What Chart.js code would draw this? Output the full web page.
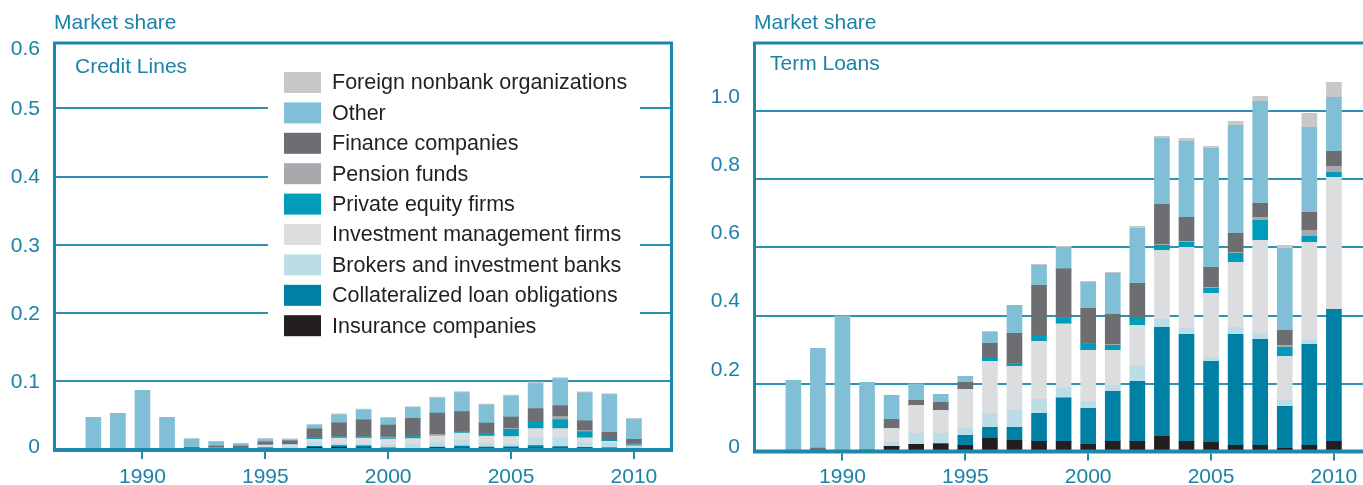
<!DOCTYPE html>
<html>
<head>
<meta charset="utf-8">
<script src="https://cdn.jsdelivr.net/npm/chart.js@4.4.0/dist/chart.umd.min.js"></script>
<style>
html, body { margin: 0; padding: 0; background: #fff; overflow: hidden; width: 1363px; height: 485px; }
canvas { position: absolute; top: 0; }
#credit { left: 0; }
#term { left: 700px; }
</style>
</head>
<body>
<canvas id="credit" width="690" height="485"></canvas>
<canvas id="term" width="690" height="485"></canvas>
<script>
// Data
const years = [1988, 1989, 1990, 1991, 1992, 1993, 1994, 1995, 1996, 1997, 1998, 1999,
               2000, 2001, 2002, 2003, 2004, 2005, 2006, 2007, 2008, 2009, 2010];
const xTickYears = [1990, 1995, 2000, 2005, 2010];

// stack order, bottom to top
const seriesNames = ['Insurance companies', 'Collateralized loan obligations', 'Brokers and investment banks',
    'Investment management firms', 'Private equity firms', 'Pension funds', 'Finance companies',
    'Other', 'Foreign nonbank organizations'];
const seriesColors = ['#231f20', '#0081a4', '#bcdde7', '#dcdddf', '#009cba', '#a7a9ac', '#6d6e71', '#80bfd5', '#c7c8ca'];

const creditYTicks = [0, 0.1, 0.2, 0.3, 0.4, 0.5, 0.6];
const creditYLabels = ['0', '0.1', '0.2', '0.3', '0.4', '0.5', '0.6'];
const termYTicks = [0, 0.2, 0.4, 0.6, 0.8, 1.0];
const termYLabels = ['0', '0.2', '0.4', '0.6', '0.8', '1.0'];

// Credit lines
const creditInsurance = [0, 0, 0, 0, 0, 0.001, 0.0015, 0.002, 0.0015, 0.003, 0.003, 0.002, 0.0015, 0.0015, 0.0024, 0.002, 0.002, 0.002, 0.002, 0.002, 0.002, 0.002, 0.0005];
const creditCLO = [0, 0, 0, 0, 0, 0, 0, 0, 0, 0.0015, 0.0029, 0.0034, 0.001, 0, 0.001, 0.0029, 0.0015, 0.002, 0.0039, 0.0024, 0.001, 0, 0];
const creditBrokers = [0, 0, 0, 0, 0, 0, 0, 0.001, 0.0029, 0.0059, 0.0024, 0.0024, 0.004, 0.0063, 0.0073, 0.0098, 0.0054, 0.0039, 0.0117, 0.0132, 0.0068, 0.0083, 0.003];
const creditInvest = [0, 0, 0, 0, 0.0015, 0.001, 0, 0.0034, 0.0029, 0.0044, 0.0083, 0.0088, 0.0088, 0.0083, 0.0093, 0.0093, 0.0107, 0.0112, 0.0132, 0.0132, 0.0073, 0.0015, 0.002];
const creditPE = [0, 0, 0, 0, 0, 0, 0, 0, 0, 0.0024, 0.002, 0.002, 0.0015, 0.0029, 0, 0.0024, 0.0029, 0.0103, 0.0103, 0.0132, 0.0093, 0.0015, 0.0015];
const creditPension = [0, 0, 0, 0, 0, 0, 0, 0, 0, 0, 0, 0, 0.0015, 0, 0.002, 0, 0, 0.0015, 0, 0.0044, 0.0015, 0, 0.001];
const creditFinance = [0, 0.0015, 0, 0.0015, 0.0015, 0.0029, 0.0034, 0.0049, 0.0054, 0.0132, 0.0205, 0.0249, 0.0176, 0.0268, 0.0312, 0.0293, 0.0161, 0.0166, 0.019, 0.0161, 0.0142, 0.0117, 0.0068];
const creditOther = [0.0472, 0.0515, 0.0868, 0.0455, 0.0127, 0.0068, 0.0039, 0.0034, 0.0015, 0.0059, 0.0117, 0.0142, 0.0098, 0.0156, 0.022, 0.0278, 0.0264, 0.0308, 0.0366, 0.0395, 0.041, 0.0556, 0.0293];
const creditForeign = [0, 0, 0, 0, 0, 0, 0, 0.0015, 0.0015, 0, 0.0015, 0.0015, 0.0015, 0.0015, 0.0015, 0.0015, 0.0015, 0.0015, 0.002, 0.0015, 0.0015, 0.0015, 0.0015];

// Term loans
const termInsurance = [0, 0.003, 0.002, 0, 0.0166, 0.0225, 0.0225, 0.0195, 0.04, 0.0342, 0.0313, 0.031, 0.0225, 0.0313, 0.0313, 0.0459, 0.0313, 0.0283, 0.0195, 0.0195, 0.0107, 0.0195, 0.0313];
const termCLO = [0, 0, 0, 0, 0, 0, 0.003, 0.0293, 0.0322, 0.0381, 0.0821, 0.128, 0.1055, 0.1465, 0.1758, 0.3194, 0.3136, 0.2374, 0.3253, 0.3106, 0.1231, 0.296, 0.3868];
const termBrokers = [0, 0, 0, 0, 0.0117, 0.0322, 0.0293, 0.0205, 0.041, 0.0498, 0.041, 0.0293, 0.0205, 0.0176, 0.0469, 0.0234, 0.0176, 0.0117, 0.0205, 0.0176, 0.0176, 0.0117, 0];
const termInvest = [0, 0, 0, 0, 0.041, 0.082, 0.0674, 0.1143, 0.1524, 0.129, 0.17, 0.1876, 0.1494, 0.1026, 0.1172, 0.2022, 0.2374, 0.1875, 0.1905, 0.2725, 0.1289, 0.2872, 0.3868];
const termPE = [0, 0, 0, 0, 0, 0, 0, 0, 0.0088, 0.0078, 0.0176, 0.0176, 0.0195, 0.0147, 0.0205, 0.0147, 0.0147, 0.0147, 0.0264, 0.0586, 0.0264, 0.0176, 0.0147];
const termPension = [0, 0, 0, 0, 0, 0, 0, 0, 0, 0, 0, 0, 0, 0.003, 0, 0.003, 0.003, 0.003, 0.003, 0.0088, 0.0059, 0.0176, 0.0176];
const termFinance = [0, 0.0088, 0.002, 0.006, 0.0264, 0.0147, 0.0234, 0.0205, 0.044, 0.0889, 0.1466, 0.1436, 0.1035, 0.0879, 0.1026, 0.1172, 0.0703, 0.0586, 0.0557, 0.041, 0.044, 0.0527, 0.044];
const termOther = [0.21, 0.292, 0.394, 0.198, 0.0703, 0.0479, 0.0234, 0.0176, 0.0322, 0.0821, 0.0586, 0.0625, 0.0762, 0.1201, 0.1612, 0.1934, 0.2227, 0.3487, 0.3165, 0.2989, 0.2403, 0.2491, 0.1582];
const termForeign = [0, 0, 0, 0, 0, 0, 0, 0, 0.003, 0, 0.003, 0.003, 0.003, 0.003, 0.0059, 0.0059, 0.0088, 0.0059, 0.0117, 0.0147, 0.0088, 0.041, 0.044];

const teal = '#1b82a8';
const lineColor = '#1f87ac';
const gridColor = '#2f91b4';
const font = '21px "Liberation Sans", Arial, Helvetica, sans-serif';
const legendFont = '21.5px "Liberation Sans", Arial, Helvetica, sans-serif';

function buildDatasets(seriesList) {
    return seriesList.map((values, i) => ({
        label: seriesNames[i],
        data: years.map((yr, j) => ({ x: yr, y: values[j] })),
        backgroundColor: seriesColors[i],
        borderWidth: 0,
        barThickness: 15
    }));
}

// frame, axis, tick labels, titles and legend
const decor = {
    id: 'decor',
    afterDraw(chart, args, o) {
        const { ctx, chartArea: a, scales: { x, y } } = chart;
        ctx.save();

        ctx.strokeStyle = lineColor;
        ctx.lineWidth = 3;
        ctx.beginPath();
        ctx.moveTo(a.left + 0.5, a.bottom);
        ctx.lineTo(a.left + 0.5, o.frameTop);
        ctx.lineTo(a.right - 0.5, o.frameTop);
        if (o.rightBorder) ctx.lineTo(a.right - 0.5, a.bottom);
        ctx.stroke();

        ctx.lineWidth = 4;
        ctx.beginPath();
        ctx.moveTo(a.left - 1, o.axisY);
        ctx.lineTo(a.right + 1, o.axisY);
        ctx.stroke();

        ctx.lineWidth = 2;
        xTickYears.forEach(yr => {
            const px = Math.round(x.getPixelForValue(yr));
            ctx.beginPath();
            ctx.moveTo(px, o.axisY + 2);
            ctx.lineTo(px, o.axisY + 9);
            ctx.stroke();
        });

        ctx.font = font;
        ctx.fillStyle = teal;
        ctx.textAlign = 'center';
        ctx.textBaseline = 'middle';
        xTickYears.forEach(yr => ctx.fillText(String(yr), x.getPixelForValue(yr), 477));

        ctx.textAlign = 'right';
        o.yTicks.forEach((v, i) => {
            ctx.fillText(o.yLabels[i], 40, y.getPixelForValue(v) + o.yLabelOffset(v));
        });

        ctx.textAlign = 'left';
        ctx.fillText('Market share', 54, 23);
        ctx.fillText(o.title, o.titleX, o.titleY);

        if (o.legend) {
            const L = o.legend;
            ctx.fillStyle = '#fff';
            ctx.fillRect(L.x, L.y, L.w, L.h);
            ctx.font = legendFont;
            const ds = chart.data.datasets.slice().reverse();
            ds.forEach((d, i) => {
                const cy = L.firstRow + i * L.rowGap;
                ctx.fillStyle = d.backgroundColor;
                ctx.fillRect(L.swatchX, cy - 10.5, 37, 21);
                ctx.fillStyle = '#231f20';
                ctx.fillText(d.label, L.textX, cy + 1);
            });
        }
        ctx.restore();
    }
};

function makeChart(id, seriesList, yMax, yStep, pad, decorOpts) {
    return new Chart(document.getElementById(id), {
        type: 'bar',
        data: { datasets: buildDatasets(seriesList) },
        options: {
            responsive: false,
            animation: false,
            events: [],
            layout: { autoPadding: false, padding: pad },
            plugins: { legend: { display: false }, tooltip: { enabled: false }, decor: decorOpts },
            scales: {
                x: {
                    type: 'linear', display: false, stacked: true, offset: false,
                    min: 1986.4, max: 2011.55,
                    grid: { display: false, drawTicks: false, offset: false },
                    border: { display: false },
                    ticks: { display: false }
                },
                y: {
                    stacked: true, min: 0, max: yMax,
                    ticks: { display: false, stepSize: yStep },
                    border: { display: false },
                    grid: {
                        drawTicks: false,
                        lineWidth: 2,
                        color: c => (c.index === 0 || Math.abs(c.tick.value - yMax) < 1e-6) ? 'rgba(0,0,0,0)' : gridColor
                    }
                }
            }
        },
        plugins: [decor]
    });
}

makeChart('credit',
    [creditInsurance, creditCLO, creditBrokers, creditInvest, creditPE, creditPension, creditFinance, creditOther, creditForeign],
    0.6, 0.1,
    { left: 54, right: 18, top: 40, bottom: 35.5 },
    {
        frameTop: 43, axisY: 450, rightBorder: true,
        title: 'Credit Lines', titleX: 75, titleY: 67,
        yTicks: creditYTicks, yLabels: creditYLabels,
        yLabelOffset: v => v === 0 ? -2.5 : (v === 0.6 ? 9 : 1),
        legend: { x: 268, y: 62, w: 372, h: 283, swatchX: 284, textX: 332, firstRow: 82.5, rowGap: 30.4 }
    });

makeChart('term',
    [termInsurance, termCLO, termBrokers, termInvest, termPE, termPension, termFinance, termOther, termForeign],
    1.2, 0.2,
    { left: 54, right: 18, top: 42.5, bottom: 33 },
    {
        frameTop: 43, axisY: 451.5, rightBorder: true,
        title: 'Term Loans', titleX: 70, titleY: 64,
        yTicks: termYTicks, yLabels: termYLabels,
        yLabelOffset: v => v === 0 ? -4.5 : -14,
        legend: null
    });
</script>
</body>
</html>
